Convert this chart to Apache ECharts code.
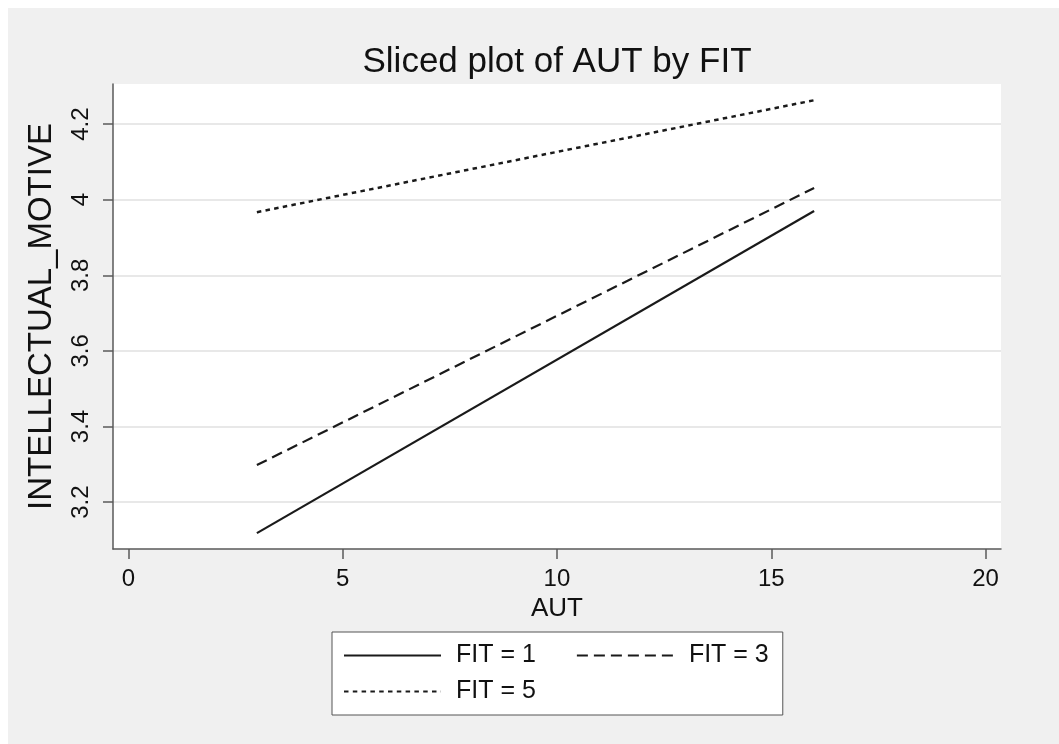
<!DOCTYPE html>
<html>
<head>
<meta charset="utf-8">
<script src="https://cdn.jsdelivr.net/npm/echarts@6/dist/echarts.min.js"></script>
<style>
  html, body { margin: 0; padding: 0; background: #ffffff; }
  #chart { position: absolute; left: 8px; top: 8px; width: 1051px; height: 736px; background: #f0f0f0; }
</style>
</head>
<body>
<div id="chart"></div>
<script>
// ---- data ----
const titleText = 'Sliced plot of AUT by FIT';
const xName = 'AUT';
const yName = 'INTELLECTUAL_MOTIVE';
const aut = [3, 16];
const fit1 = [3.118, 3.970];
const fit3 = [3.298, 4.031];
const fit5 = [3.967, 4.263];
const seriesNames = ['FIT = 1', 'FIT = 3', 'FIT = 5'];
const xTicks = [0, 5, 10, 15, 20];
const yTicks = [3.2, 3.4, 3.6, 3.8, 4.0, 4.2];

const FONT = "'Liberation Sans', Arial, sans-serif";
const AX = '#5a5a5a';
const LINE = '#1a1a1a';

function pairs(xs, ys) { return xs.map((x, i) => [x, ys[i]]); }

const chart = echarts.init(document.getElementById('chart'), null, { renderer: 'canvas' });
chart.setOption({
  animation: false,
  backgroundColor: '#f0f0f0',
  textStyle: { fontFamily: FONT },
  title: {
    text: titleText,
    left: 549,
    top: 37,
    padding: 0,
    textAlign: 'center',
    textStyle: { fontFamily: FONT, fontSize: 35, fontWeight: 'normal', color: '#111' }
  },
  grid: {
    left: 105, top: 76, right: 58, bottom: 195,
    show: true, backgroundColor: '#ffffff', borderWidth: 0
  },
  xAxis: {
    type: 'value',
    min: -0.357, max: 20.36,
    name: xName,
    nameLocation: 'middle',
    nameGap: 36,
    nameTextStyle: { fontFamily: FONT, fontSize: 26, color: '#111' },
    axisLine: { show: true, onZero: false, lineStyle: { color: AX, width: 1.5 } },
    axisTick: { show: true, length: 10, lineStyle: { color: AX, width: 1.5 }, customValues: xTicks },
    axisLabel: { customValues: xTicks, margin: 18, fontFamily: FONT, fontSize: 24, color: '#111' },
    splitLine: { show: false }
  },
  yAxis: {
    type: 'value',
    min: 3.076, max: 4.306,
    splitNumber: 6,
    name: yName,
    nameLocation: 'middle',
    nameGap: 55,
    nameTextStyle: { fontFamily: FONT, fontSize: 33, color: '#111' },
    axisLine: { show: true, onZero: false, lineStyle: { color: AX, width: 1.5 } },
    axisTick: { show: true, length: 10, lineStyle: { color: AX, width: 1.5 }, customValues: yTicks },
    axisLabel: {
      customValues: yTicks, rotate: 90, margin: 20,
      fontFamily: FONT, fontSize: 24, color: '#111',
      formatter: v => String(Math.round(v * 10) / 10)
    },
    splitLine: { show: true, lineStyle: { color: '#e8e8e8', width: 2 } }
  },
  legend: {
    left: 324, top: 624,
    width: 430,
    orient: 'horizontal',
    padding: [10, 14, 10, 11],
    itemGap: 9,
    itemWidth: 97,
    itemHeight: 14,
    itemStyle: { opacity: 0 },
    backgroundColor: '#ffffff',
    borderColor: '#555555',
    borderWidth: 1,
    borderRadius: 0,
    textStyle: { fontFamily: FONT, fontSize: 25, color: '#111', lineHeight: 27 },
    data: [
      { name: seriesNames[0], textStyle: { padding: [0, 31, 0, 10] } },
      { name: seriesNames[1], textStyle: { padding: [0, 0, 0, 10] } },
      { name: seriesNames[2], textStyle: { padding: [0, 0, 0, 10] } }
    ]
  },
  series: [
    {
      name: seriesNames[0], type: 'line', data: pairs(aut, fit1),
      symbol: 'none', color: LINE,
      lineStyle: { color: LINE, width: 2.2, type: 'solid' }
    },
    {
      name: seriesNames[1], type: 'line', data: pairs(aut, fit3),
      symbol: 'none', color: LINE,
      lineStyle: { color: LINE, width: 2.2, type: [11, 6] }
    },
    {
      name: seriesNames[2], type: 'line', data: pairs(aut, fit5),
      symbol: 'none', color: LINE,
      lineStyle: { color: LINE, width: 2.5, type: [4.5, 4.3] }
    }
  ]
});
</script>
</body>
</html>
